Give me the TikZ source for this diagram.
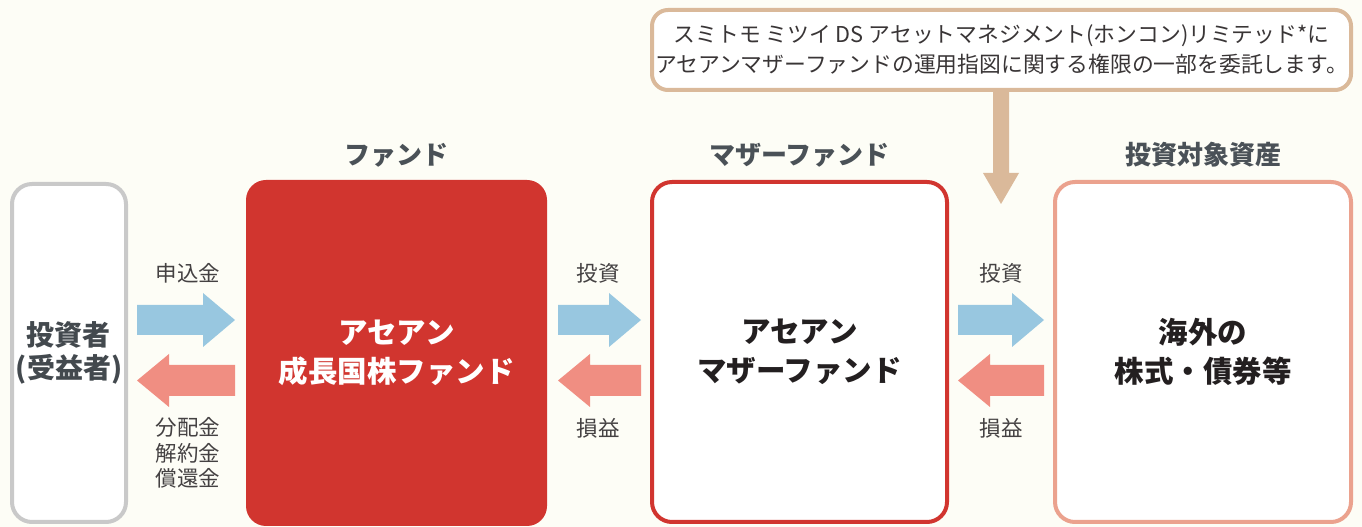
\documentclass[tikz,border=0pt]{standalone}
\usepackage{fontspec}
\setmainfont{Noto Sans CJK JP}
\usepackage{tikz}
\usetikzlibrary{calc}
\usepackage{xcolor}

\definecolor{bgcream}{HTML}{FDFDF6}
\definecolor{fundred}{HTML}{D1352F}
\definecolor{assetpink}{HTML}{EBA28E}
\definecolor{invgray}{HTML}{C9C9C9}
\definecolor{notetan}{HTML}{DAB99A}
\definecolor{arrblue}{HTML}{98C7E0}
\definecolor{arrred}{HTML}{F08E82}
\definecolor{headgray}{HTML}{4A5157}
\definecolor{txtdark}{HTML}{231F20}

\tikzset{
  box/.style={rounded corners=20pt, line width=4pt, fill=white, align=center,
    font=\bfseries\fontsize{29.5}{39}\selectfont, text=txtdark, inner sep=0pt},
  head/.style={font=\bfseries\fontsize{26}{30}\selectfont, text=headgray},
  lbl/.style={font=\fontsize{21.5}{25.5}\selectfont, text=txtdark!85, align=center}
}

% blue arrow to the right, red arrow to the left, between two boxes
\newcommand{\goright}[3]{%
  \fill[arrblue] let \p1=(#1.east), \p2=(#2.west) in
    (\x1+9,#3-15) -- (\x2-41,#3-15) -- (\x2-41,#3-27) -- (\x2-9,#3)
    -- (\x2-41,#3+27) -- (\x2-41,#3+15) -- (\x1+9,#3+15) -- cycle;}
\newcommand{\goleft}[3]{%
  \fill[arrred] let \p1=(#1.east), \p2=(#2.west) in
    (\x2-9,#3-15.5) -- (\x1+41,#3-15.5) -- (\x1+41,#3-26.5) -- (\x1+9,#3)
    -- (\x1+41,#3+26.5) -- (\x1+41,#3+15.5) -- (\x2-9,#3+15.5) -- cycle;}

\begin{document}
\begin{tikzpicture}[x=1pt,y=1pt]
  \fill[bgcream] (0,0) rectangle (1362,527);
  \useasboundingbox (0,0) rectangle (1362,527);

  % boxes
  \node[box, draw=invgray, minimum width=114, minimum height=338,
    font=\bfseries\fontsize{28}{33}\selectfont, text=headgray!90!black] (inv) at (69,174)
    {投資者\\(受益者)};
  \node[box, fill=fundred, minimum width=301, minimum height=346, text=white] (fund) at (396.5,174)
    {アセアン\\成長国株ファンド};
  \node[box, draw=fundred, minimum width=295, minimum height=340] (mother) at (799.5,175)
    {アセアン\\マザーファンド};
  \node[box, draw=assetpink, minimum width=296, minimum height=340] (asset) at (1203,175)
    {海外の\\株式・債券等};

  % headings
  \node[head] (hfund) at (396.5,372) {ファンド};
  \node[head] (hmother) at (799.5,372) {マザーファンド};
  \node[head] (hasset) at (1203,372) {投資対象資産};

  % note on top
  \node[box, draw=notetan, rounded corners=16pt, minimum width=699, minimum height=80,
    font=\fontsize{21.8}{30}\selectfont, text=txtdark!90] (note) at (1001.5,477)
    {スミトモ ミツイ DS アセットマネジメント(ホンコン)リミテッド*に\\
     アセアンマザーファンドの運用指図に関する権限の一部を委託します。};
  \coordinate (tip) at (1001,323);
  \fill[notetan] let \p1=(note.south) in
    (1001-8,\y1+2) -- (1001-8,354) -- (1001-18,354) -- (tip)
    -- (1001+18,354) -- (1001+8,354) -- (1001+8,\y1+2) -- cycle;

  % flows
  \goright{inv}{fund}{207}
  \goleft{inv}{fund}{146.5}
  \goright{fund}{mother}{207}
  \goleft{fund}{mother}{146.5}
  \goright{mother}{asset}{207}
  \goleft{mother}{asset}{146.5}

  % flow labels
  \node[lbl] (l1) at (188,254) {申込金};
  \node[lbl] (l2) at (188,74) {分配金\\解約金\\償還金};
  \node[lbl] (l3) at (598,254) {投資};
  \node[lbl] (l4) at (598,99) {損益};
  \node[lbl] (l5) at (1001,254) {投資};
  \node[lbl] (l6) at (1001,99) {損益};
\end{tikzpicture}
\end{document}
